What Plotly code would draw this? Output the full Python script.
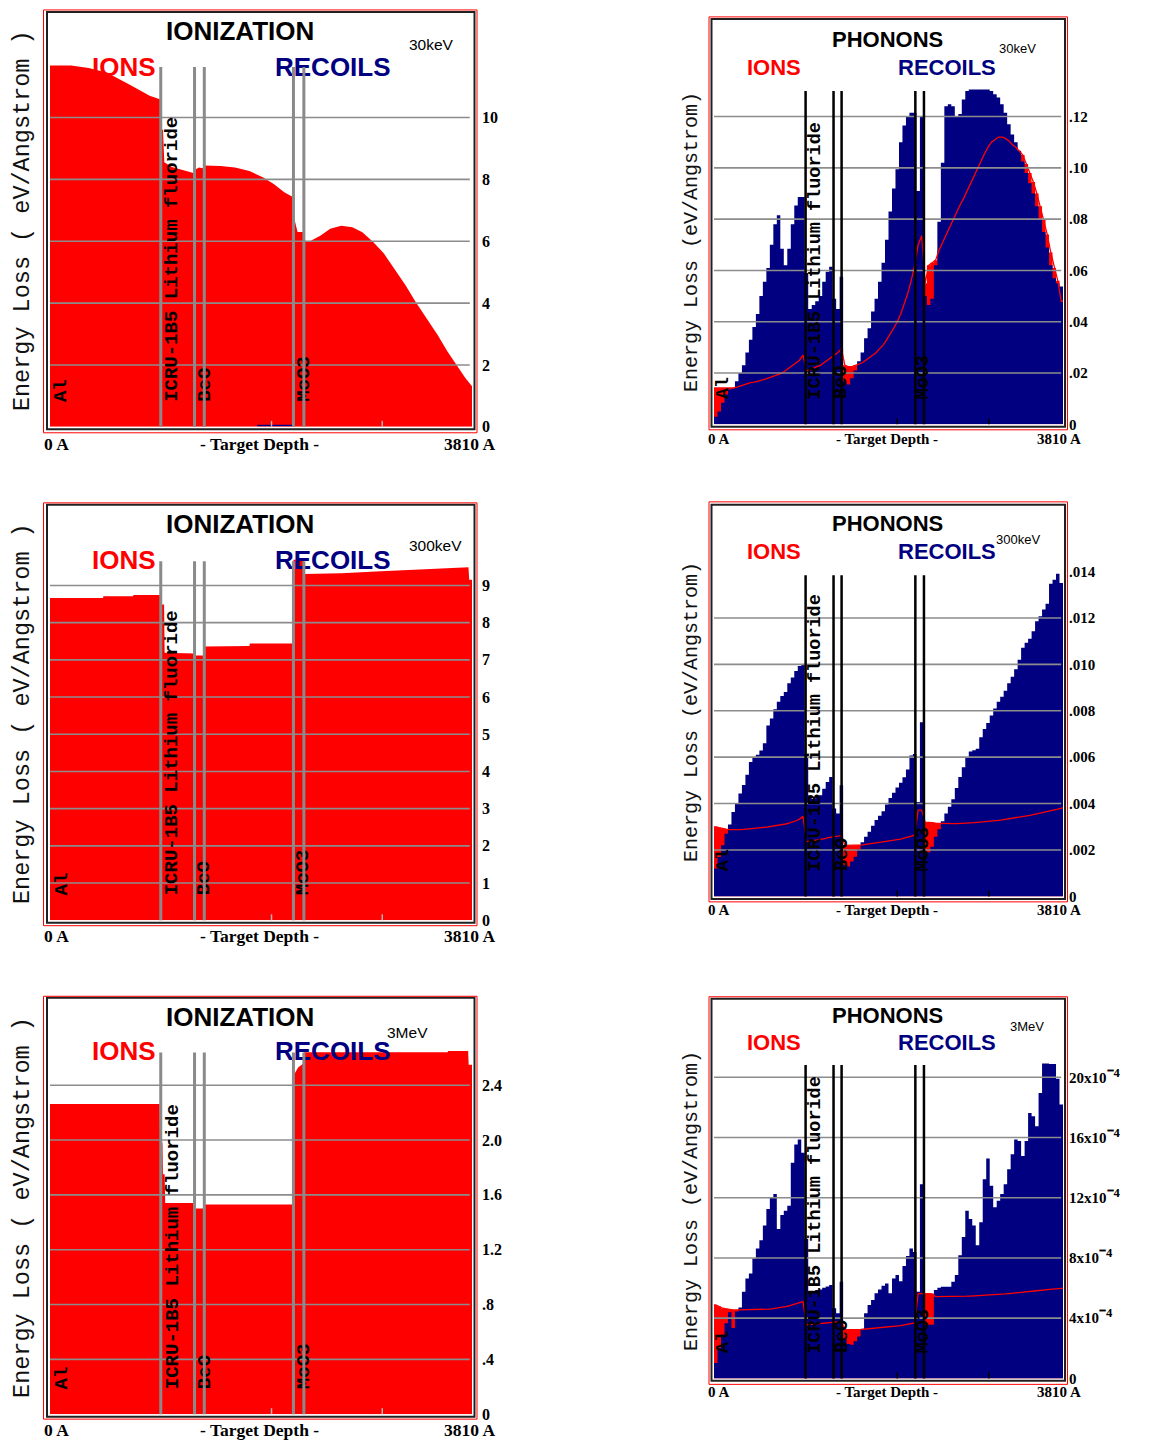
import numpy as np
import plotly.graph_objects as go

W, H = 1150, 1449
TARGET_DEPTH = 3810  # Angstrom

RED = "#ff0000"
NAVY = "#000080"
GRID = "#8c8c8c"

# ---------------------------------------------------------------- data
# target layers: boundaries (A) and labels
LAYER_BOUNDS = [1000, 1305, 1393, 2198, 2292]
LAYER_NAMES = ["Al", "ICRU-1B5 Lithium fluoride", "BeO", "MoO3"]
LAYER_LABEL_X = [105, 1105, 1398, 2292]

# SRIM depth histogram: 100 bins across the target
BIN_EDGES = np.linspace(0, TARGET_DEPTH, 101)
BIN_CENTRES = 0.5 * (BIN_EDGES[:-1] + BIN_EDGES[1:])

# Ionization energy loss of ions (eV/A)
ION_30KEV_DEPTH = [0, 190, 350, 510, 700, 900, 998, 1000, 1020, 1032,
                   1100, 1200, 1303, 1305, 1345, 1393, 1395, 1540, 1670, 1800,
                   1925, 2020, 2115, 2196, 2198, 2235, 2290, 2292, 2330, 2440,
                   2530, 2630, 2730, 2820, 2920, 3015, 3110, 3210, 3300, 3400,
                   3500, 3590, 3690, 3750, 3810]
ION_30KEV_IONS = [11.68, 11.68, 11.6, 11.45, 11.1, 10.7, 10.58, 9.6, 9.6, 8.55,
                  8.4, 8.3, 8.2, 8.3, 8.38, 8.35, 8.45, 8.43, 8.38, 8.27,
                  8.06, 7.85, 7.58, 7.42, 6.85, 6.3, 6.3, 6.05, 5.97, 6.18,
                  6.4, 6.5, 6.45, 6.29, 5.97, 5.6, 5.11, 4.58, 4.04, 3.5,
                  2.97, 2.43, 1.9, 1.58, 1.31]
ION_30KEV_RECOIL_DEPTH = [1870, 2190]
ION_30KEV_RECOILS = [0.04, 0.04]

ION_300KEV_DEPTH = [0, 480, 481, 750, 754, 998, 1000, 1030, 1035, 1303,
                    1305, 1391, 1393, 1800, 1805, 2196, 2198, 2290, 2292, 2630,
                    2990, 3420, 3778, 3785, 3810]
ION_300KEV_IONS = [8.66, 8.66, 8.71, 8.71, 8.74, 8.74, 8.49, 8.49, 7.19, 7.17,
                   7.12, 7.12, 7.36, 7.37, 7.44, 7.44, 9.69, 9.69, 9.31, 9.33,
                   9.38, 9.44, 9.49, 9.15, 9.15]

ION_3MEV_DEPTH = [0, 990, 995, 1015, 1020, 1035, 1040, 1303, 1305, 1391,
                  1393, 2196, 2198, 2240, 2290, 2292, 3590, 3595, 3775, 3780, 3810]
ION_3MEV_IONS = [2.264, 2.264, 1.98, 1.98, 1.75, 1.75, 1.54, 1.54, 1.50, 1.50,
                 1.53, 1.53, 2.47, 2.53, 2.56, 2.64, 2.64, 2.65, 2.65, 2.55, 2.55]

# Phonon energy loss per depth bin (eV/A), 30 keV
PHON_30KEV_RECOILS = [
    0.003, 0.005, 0.0084, 0.0116, 0.0136, 0.014, 0.0168, 0.020, 0.023, 0.028,
    0.033, 0.038, 0.043, 0.050, 0.0556, 0.061, 0.070, 0.078, 0.0815, 0.0685,
    0.062, 0.0685, 0.078, 0.0853, 0.0886, 0.0886, 0.059, 0.045, 0.0465, 0.048,
    0.050, 0.0556, 0.0595, 0.0614, 0.049, 0.045, 0.0575, 0.0168, 0.0155, 0.018,
    0.021, 0.0246, 0.028, 0.0336, 0.0375, 0.044, 0.049, 0.0556, 0.063, 0.072,
    0.083, 0.092, 0.0995, 0.110, 0.1165, 0.120, 0.1215, 0.1215, 0.091, 0.120,
    0.050, 0.0465, 0.049, 0.062, 0.079, 0.102, 0.124, 0.1248, 0.124, 0.120,
    0.121, 0.1267, 0.130, 0.1306, 0.1306, 0.1306, 0.1306, 0.1306, 0.1306, 0.1300,
    0.1287, 0.1274, 0.1248, 0.1215, 0.117, 0.113, 0.110, 0.1067, 0.1025, 0.098,
    0.094, 0.090, 0.085, 0.080, 0.075, 0.069, 0.062, 0.057, 0.055, 0.0537]
PHON_30KEV_IONS = [
    0.0142, 0.0142, 0.0142, 0.0142, 0.0142, 0.0142, 0.0145, 0.015, 0.0155, 0.016,
    0.0163, 0.0165, 0.0168, 0.017, 0.0175, 0.018, 0.0185, 0.019, 0.0195, 0.020,
    0.021, 0.022, 0.023, 0.024, 0.025, 0.027, 0.021, 0.021, 0.022, 0.0225,
    0.023, 0.024, 0.025, 0.026, 0.027, 0.028, 0.0295, 0.023, 0.0225, 0.0225,
    0.023, 0.0235, 0.024, 0.025, 0.026, 0.027, 0.028, 0.0295, 0.031, 0.033,
    0.035, 0.0375, 0.040, 0.043, 0.047, 0.051, 0.056, 0.062, 0.070, 0.0735,
    0.055, 0.062, 0.063, 0.064, 0.068, 0.071, 0.074, 0.077, 0.080, 0.083,
    0.0855, 0.088, 0.091, 0.094, 0.097, 0.100, 0.103, 0.1055, 0.108, 0.110,
    0.111, 0.112, 0.112, 0.1115, 0.1105, 0.109, 0.108, 0.1065, 0.105, 0.1015,
    0.098, 0.0945, 0.090, 0.085, 0.080, 0.074, 0.067, 0.061, 0.056, 0.048]

# Phonon energy loss per depth bin (eV/A), 300 keV
PHON_300KEV_RECOILS = [
    0.0012, 0.0017, 0.0022, 0.0027, 0.0031, 0.00364, 0.0040, 0.00443, 0.0048, 0.00524,
    0.00579, 0.0060, 0.0061, 0.00629, 0.0066, 0.00736, 0.00767, 0.00807, 0.00839, 0.00864,
    0.00881, 0.00919, 0.00943, 0.00971, 0.00993, 0.0100, 0.00614, 0.00436, 0.0042, 0.0043,
    0.00436, 0.00464, 0.00493, 0.00514, 0.00379, 0.00357, 0.00479, 0.00136, 0.00129, 0.0015,
    0.00171, 0.00204, 0.00233, 0.00257, 0.00279, 0.00304, 0.00329, 0.00347, 0.00367, 0.00396,
    0.00424, 0.00447, 0.00469, 0.0049, 0.00513, 0.00547, 0.00607, 0.00614, 0.00407, 0.0075,
    0.00193, 0.0019, 0.00214, 0.00257, 0.00289, 0.00324, 0.00357, 0.00386, 0.00419, 0.00467,
    0.00514, 0.00557, 0.0060, 0.00624, 0.0063, 0.00636, 0.00686, 0.00721, 0.00747, 0.00779,
    0.0081, 0.00839, 0.0086, 0.00886, 0.00919, 0.00947, 0.00979, 0.0102, 0.01071, 0.01093,
    0.0111, 0.01143, 0.01186, 0.01207, 0.01236, 0.01261, 0.01347, 0.01364, 0.0139, 0.0135]
PHON_300KEV_IONS = [
    0.00300, 0.00296, 0.00292, 0.00290, 0.00288, 0.00287, 0.00287, 0.00288, 0.00289, 0.00290,
    0.00291, 0.00292, 0.00294, 0.00296, 0.00298, 0.00300, 0.00302, 0.00304, 0.00306, 0.00309,
    0.00312, 0.00316, 0.00320, 0.00326, 0.00333, 0.00345, 0.00236, 0.00238, 0.00240, 0.00242,
    0.00245, 0.00248, 0.00252, 0.00256, 0.00258, 0.00260, 0.00262, 0.00220, 0.00220, 0.00220,
    0.00220, 0.00221, 0.00222, 0.00224, 0.00226, 0.00228, 0.00230, 0.00232, 0.00234, 0.00236,
    0.00238, 0.00241, 0.00244, 0.00247, 0.00251, 0.00255, 0.00259, 0.00264, 0.00372, 0.00372,
    0.00320, 0.00320, 0.00318, 0.00316, 0.00315, 0.00314, 0.00314, 0.00314, 0.00314, 0.00314,
    0.00314, 0.00315, 0.00316, 0.00317, 0.00318, 0.00319, 0.00320, 0.00321, 0.00322, 0.00324,
    0.00326, 0.00328, 0.00330, 0.00332, 0.00334, 0.00336, 0.00338, 0.00340, 0.00343, 0.00346,
    0.00349, 0.00352, 0.00355, 0.00358, 0.00361, 0.00364, 0.00368, 0.00372, 0.00376, 0.00380]

# Phonon energy loss per depth bin, 3 MeV (units of 1e-4 eV/A)
PHON_3MEV_RECOILS_E4 = [
    1.03, 2.02, 2.90, 3.67, 4.40, 3.34, 4.44, 4.70, 5.76, 6.64,
    6.97, 7.96, 8.62, 9.17, 10.15, 11.25, 12.02, 12.24, 9.93, 10.86,
    11.14, 11.47, 14.33, 15.54, 15.87, 14.99, 9.28, 5.76, 5.76, 5.87,
    5.91, 6.02, 6.11, 6.20, 4.66, 4.33, 6.42, 2.57, 2.29, 2.24,
    2.46, 2.79, 3.30, 4.33, 4.88, 5.21, 5.65, 5.91, 6.15, 6.31,
    5.65, 6.64, 6.86, 6.46, 7.47, 8.13, 8.62, 8.40, 5.76, 12.90,
    3.56, 3.56, 3.56, 5.87, 6.02, 6.09, 6.09, 6.09, 6.42, 6.86,
    8.18, 9.39, 11.14, 10.59, 10.15, 8.84, 10.37, 13.23, 14.60, 12.79,
    11.36, 11.80, 12.24, 12.90, 13.89, 14.88, 15.87, 15.76, 14.77, 15.76,
    17.63, 17.41, 16.75, 18.95, 20.92, 20.92, 20.88, 20.88, 19.90, 18.20]
PHON_3MEV_IONS_E4 = [
    4.88, 4.77, 4.66, 4.62, 4.57, 4.55, 4.55, 4.55, 4.55, 4.55,
    4.55, 4.55, 4.56, 4.57, 4.58, 4.60, 4.62, 4.65, 4.68, 4.72,
    4.76, 4.82, 4.88, 4.94, 5.00, 5.10, 3.56, 3.58, 3.60, 3.62,
    3.64, 3.67, 3.70, 3.73, 3.75, 3.76, 3.78, 3.23, 3.23, 3.23,
    3.24, 3.25, 3.26, 3.28, 3.30, 3.32, 3.34, 3.36, 3.38, 3.40,
    3.42, 3.45, 3.48, 3.51, 3.55, 3.59, 3.63, 3.68, 5.65, 5.65,
    5.65, 5.65, 5.62, 5.43, 5.43, 5.42, 5.42, 5.42, 5.42, 5.43,
    5.44, 5.45, 5.46, 5.47, 5.48, 5.49, 5.50, 5.51, 5.52, 5.53,
    5.55, 5.57, 5.59, 5.61, 5.63, 5.65, 5.67, 5.69, 5.71, 5.73,
    5.75, 5.78, 5.81, 5.84, 5.87, 5.90, 5.93, 5.95, 5.97, 5.98]

# Right-hand axis ticks
EXP_M4 = "<span style='font-size:21px'>\u207b\u2074</span>"
TICKS_ION_30KEV = [0, 2, 4, 6, 8, 10]
TICKTEXT_ION_30KEV = ["0", "2", "4", "6", "8", "10"]
TICKS_ION_300KEV = [0, 1, 2, 3, 4, 5, 6, 7, 8, 9]
TICKTEXT_ION_300KEV = ["0", "1", "2", "3", "4", "5", "6", "7", "8", "9"]
TICKS_ION_3MEV = [0, 0.4, 0.8, 1.2, 1.6, 2.0, 2.4]
TICKTEXT_ION_3MEV = ["0", ".4", ".8", "1.2", "1.6", "2.0", "2.4"]
TICKS_PHON_30KEV = [0, 0.02, 0.04, 0.06, 0.08, 0.10, 0.12]
TICKTEXT_PHON_30KEV = ["0", ".02", ".04", ".06", ".08", ".10", ".12"]
TICKS_PHON_300KEV = [0, 0.002, 0.004, 0.006, 0.008, 0.010, 0.012, 0.014]
TICKTEXT_PHON_300KEV = ["0", ".002", ".004", ".006", ".008", ".010", ".012", ".014"]
TICKS_PHON_3MEV = [0, 4, 8, 12, 16, 20]
TICKTEXT_PHON_3MEV = ["0", "4x10" + EXP_M4, "8x10" + EXP_M4, "12x10" + EXP_M4,
                      "16x10" + EXP_M4, "20x10" + EXP_M4]

# ---------------------------------------------------------------- layout
# pixel geometry of each panel: data box (left, top, right, bottom), frames, text spots
PANELS = [
    dict(kind="ion", title="IONIZATION", energy="30keV",
         box=(50, 13, 472, 429.5), ymax=13.38,
         ticks=TICKS_ION_30KEV, ticktext=TICKTEXT_ION_30KEV, grid=[2, 4, 6, 8, 10],
         frame=(47, 12, 474.5, 432), red=(43.5, 10, 477, 435.5),
         title_xy=(240, 31), energy_xy=(432, 45), ions_xy=(124, 67), recoils_xy=(333, 67),
         bottom_y=447, ytitle_xy=(22.5, 222)),
    dict(kind="ion", title="IONIZATION", energy="300keV",
         box=(50, 509, 472, 926), ymax=11.14,
         ticks=TICKS_ION_300KEV, ticktext=TICKTEXT_ION_300KEV, grid=[1, 2, 3, 4, 5, 6, 7, 8, 9],
         frame=(47, 508, 474.5, 928.5), red=(43.5, 506, 477, 931.5),
         title_xy=(240, 527), energy_xy=(435, 549), ions_xy=(124, 563), recoils_xy=(333, 563),
         bottom_y=942, ytitle_xy=(22.5, 718)),
    dict(kind="ion", title="IONIZATION", energy="3MeV",
         box=(50, 1005, 472, 1423), ymax=3.031,
         ticks=TICKS_ION_3MEV, ticktext=TICKTEXT_ION_3MEV, grid=[0.4, 0.8, 1.2, 1.6, 2.0, 2.4],
         frame=(47, 1004, 474.5, 1425.5), red=(43.5, 1002.5, 477, 1428),
         title_xy=(240, 1023), energy_xy=(407, 1039), ions_xy=(124, 1058), recoils_xy=(333, 1058),
         bottom_y=1439, ytitle_xy=(22.5, 1215)),
    dict(kind="phon", title="PHONONS", energy="30keV",
         box=(714, 20, 1063, 427), ymax=0.1577,
         ticks=TICKS_PHON_30KEV, ticktext=TICKTEXT_PHON_30KEV,
         grid=[0.02, 0.04, 0.06, 0.08, 0.10, 0.12],
         frame=(711.5, 19, 1065, 429.5), red=(709, 17, 1067.5, 432.5),
         title_xy=(887, 40), energy_xy=(1017, 49), ions_xy=(774, 68), recoils_xy=(947, 68),
         bottom_y=442, ytitle_xy=(691.5, 244)),
    dict(kind="phon", title="PHONONS", energy="300keV",
         box=(714, 509, 1063, 902), ymax=0.01683,
         ticks=TICKS_PHON_300KEV, ticktext=TICKTEXT_PHON_300KEV,
         grid=[0.002, 0.004, 0.006, 0.008, 0.010, 0.012],
         frame=(711.5, 508, 1065, 904.5), red=(709, 505, 1067.5, 907.5),
         title_xy=(887, 527), energy_xy=(1018, 543), ions_xy=(774, 555), recoils_xy=(947, 555),
         bottom_y=916, ytitle_xy=(691.5, 717)),
    dict(kind="phon", title="PHONONS", energy="3MeV",
         box=(714, 1006, 1063, 1387), ymax=25.15,
         ticks=TICKS_PHON_3MEV, ticktext=TICKTEXT_PHON_3MEV, grid=[4, 8, 12, 16, 20],
         frame=(711.5, 1005, 1065, 1389.5), red=(709, 1003, 1067.5, 1393),
         title_xy=(887, 1022), energy_xy=(1027, 1033), ions_xy=(774, 1049), recoils_xy=(947, 1049),
         bottom_y=1401, ytitle_xy=(691.5, 1209)),
]

ION_SERIES = [
    (ION_30KEV_DEPTH, ION_30KEV_IONS),
    (ION_300KEV_DEPTH, ION_300KEV_IONS),
    (ION_3MEV_DEPTH, ION_3MEV_IONS),
]
PHON_SERIES = [
    (PHON_30KEV_IONS, PHON_30KEV_RECOILS),
    (PHON_300KEV_IONS, PHON_300KEV_RECOILS),
    (PHON_3MEV_IONS_E4, PHON_3MEV_RECOILS_E4),
]

SANS = "Liberation Sans"
SERIF = "Liberation Serif"
MONO = "Liberation Mono"


def paper_x(px):
    return px / W


def paper_y(py):
    return 1 - py / H


fig = go.Figure()
shapes, annotations = [], []
layout_axes = {}

for k, p in enumerate(PANELS, start=1):
    suffix = "" if k == 1 else str(k)
    xa, ya = "x" + suffix, "y" + suffix
    L, T, R, B = p["box"]
    is_ion = p["kind"] == "ion"

    layout_axes["xaxis" + suffix] = dict(
        domain=[paper_x(L), paper_x(R)], range=[0, TARGET_DEPTH], anchor=ya,
        visible=False, fixedrange=True)
    layout_axes["yaxis" + suffix] = dict(
        domain=[paper_y(B), paper_y(T)], range=[0, p["ymax"]], anchor=xa,
        side="right", showgrid=False, zeroline=False, showline=False, ticks="",
        tickmode="array", tickvals=p["ticks"], ticktext=p["ticktext"],
        tickfont=dict(family=SERIF, size=16 if is_ion else 15, color="black", weight="bold"),
        ticklabelstandoff=9 if is_ion else 5, fixedrange=True)

    if is_ion:
        depth, ions = ION_SERIES[k - 1]
        fig.add_trace(go.Scatter(
            x=depth, y=ions, mode="lines", line=dict(width=0, color=RED),
            fill="tozeroy", fillcolor=RED, xaxis=xa, yaxis=ya,
            showlegend=False, hoverinfo="skip"))
        if k == 1:
            fig.add_trace(go.Scatter(
                x=ION_30KEV_RECOIL_DEPTH, y=ION_30KEV_RECOILS, mode="lines",
                line=dict(width=1.5, color=NAVY), xaxis=xa, yaxis=ya,
                showlegend=False, hoverinfo="skip"))
        top = max(ions)
    else:
        ions, recoils = PHON_SERIES[k - 4]
        xs = list(BIN_EDGES)
        ions_y = list(ions) + [ions[-1]]
        rec_y = list(recoils) + [recoils[-1]]
        # ion histogram, recoil histogram over it, then the ion curve on top
        fig.add_trace(go.Scatter(
            x=xs, y=ions_y, mode="lines", line=dict(width=0, color=RED, shape="hv"),
            fill="tozeroy", fillcolor=RED, xaxis=xa, yaxis=ya,
            showlegend=False, hoverinfo="skip"))
        fig.add_trace(go.Scatter(
            x=xs, y=rec_y, mode="lines", line=dict(width=0, color=NAVY, shape="hv"),
            fill="tozeroy", fillcolor=NAVY, xaxis=xa, yaxis=ya,
            showlegend=False, hoverinfo="skip"))
        fig.add_trace(go.Scatter(
            x=[0] + list(BIN_CENTRES) + [TARGET_DEPTH],
            y=[ions[0]] + list(ions) + [ions[-1]],
            mode="lines", line=dict(width=1.3, color=RED),
            xaxis=xa, yaxis=ya, showlegend=False, hoverinfo="skip"))
        top = max(max(ions), max(recoils))

    # horizontal grid drawn over the histograms
    for g in p["grid"]:
        shapes.append(dict(type="line", xref=xa, yref=ya, x0=0, x1=3790, y0=g, y1=g,
                           line=dict(color=GRID, width=1.6), layer="above"))
    # small depth ticks on the bottom edge
    for d in (2000, 3000):
        shapes.append(dict(type="line", xref=xa, yref="paper", x0=d, x1=d,
                           y0=paper_y(B), y1=paper_y(B - 6),
                           line=dict(color="#b4b4b4" if is_ion else "black", width=1.5),
                           layer="above"))
    # frame and outer red border
    fx0, fy0, fx1, fy1 = p["frame"]
    shapes.append(dict(type="rect", xref="paper", yref="paper",
                       x0=paper_x(fx0), x1=paper_x(fx1), y0=paper_y(fy1), y1=paper_y(fy0),
                       line=dict(color="#202020", width=2), layer="above"))
    rx0, ry0, rx1, ry1 = p["red"]
    shapes.append(dict(type="rect", xref="paper", yref="paper",
                       x0=paper_x(rx0), x1=paper_x(rx1), y0=paper_y(ry1), y1=paper_y(ry0),
                       line=dict(color=RED, width=1), layer="above"))

    # headings
    tx, ty = p["title_xy"]
    annotations.append(dict(text=p["title"], x=paper_x(tx), y=paper_y(ty), xref="paper",
                            yref="paper", showarrow=False, xanchor="center", yanchor="middle",
                            font=dict(family=SANS, size=26 if is_ion else 22, color="black",
                                      weight="bold")))
    ex, ey = p["energy_xy"]
    annotations.append(dict(text=p["energy"], x=paper_x(ex), y=paper_y(ey), xref="paper",
                            yref="paper", showarrow=False, xanchor="center", yanchor="middle",
                            font=dict(family=SANS, size=15.5 if is_ion else 13, color="black")))
    for label, (lx, ly), color in (("IONS", p["ions_xy"], RED),
                                   ("RECOILS", p["recoils_xy"], NAVY)):
        annotations.append(dict(text=label, x=paper_x(lx), y=paper_y(ly), xref="paper",
                                yref="paper", showarrow=False, xanchor="center",
                                yanchor="middle",
                                font=dict(family=SANS, size=26 if is_ion else 22, color=color,
                                          weight="bold")))
    # depth axis labels
    bsize = 17.5 if is_ion else 15
    by = paper_y(p["bottom_y"])
    left_edge, centre, right_edge = (42, 259, 497) if is_ion else (706, 887, 1083)
    for txt, xpx, anchor in (("0 A", left_edge, "left"), ("- Target Depth -", centre, "center"),
                             ("3810 A", right_edge, "right")):
        annotations.append(dict(text=txt, x=paper_x(xpx), y=by, xref="paper", yref="paper",
                                showarrow=False, xanchor=anchor, yanchor="middle",
                                font=dict(family=SERIF, size=bsize, color="black",
                                          weight="bold")))
    # vertical axis title
    yx, yy = p["ytitle_xy"]
    annotations.append(dict(
        text="Energy Loss ( eV/Angstrom )" if is_ion else "Energy Loss (eV/Angstrom)",
        x=paper_x(yx), y=paper_y(yy), xref="paper", yref="paper", showarrow=False,
        textangle=-90, xanchor="center", yanchor="middle",
        font=dict(family=MONO, size=23.5 if is_ion else 20, color="#111111")))
    # layer names, then the boundary lines drawn across them
    for name, lx in zip(LAYER_NAMES, LAYER_LABEL_X):
        annotations.append(dict(text=name, x=lx, y=paper_y(B - 23), xref=xa, yref="paper",
                                showarrow=False, textangle=-90, xanchor="center",
                                yanchor="bottom",
                                font=dict(family=MONO, size=19 if is_ion else 18.5,
                                          color="black", weight="bold")))
    for bnd in LAYER_BOUNDS:
        annotations.append(dict(text="", x=bnd, y=0, xref=xa, yref=ya,
                                ax=bnd, ay=top, axref=xa, ayref=ya,
                                showarrow=True, arrowhead=0, standoff=0, startstandoff=0,
                                arrowwidth=3 if is_ion else 2.5,
                                arrowcolor="#8a8a8a" if is_ion else "black"))

fig.update_layout(
    width=W, height=H, margin=dict(l=0, r=0, t=0, b=0),
    paper_bgcolor="white", plot_bgcolor="white", showlegend=False,
    shapes=shapes, annotations=annotations, **layout_axes)

fig.write_html("out.html")
